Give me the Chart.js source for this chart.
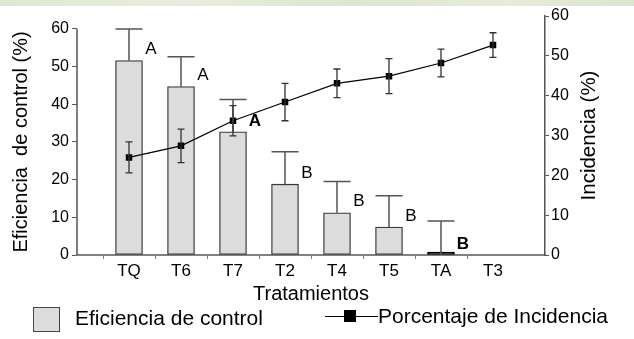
<!DOCTYPE html>
<html>
<head>
<meta charset="utf-8">
<script src="https://cdn.jsdelivr.net/npm/chart.js@4.4.0/dist/chart.umd.min.js"></script>
<style>
  html, body { margin: 0; padding: 0; background: #fff; }
  #wrap { position: relative; width: 634px; height: 339px; overflow: hidden; font-family: "Liberation Sans", Arial, sans-serif; }
  #strip { position: absolute; left: 0; top: 0; width: 634px; height: 6px;
    background: linear-gradient(90deg, #dfe8d4, #e8eedf 30%, #dce6d0 55%, #e6ecdc 80%, #dbe5cf); }
  #chart { position: absolute; left: 0; top: 0; }
  .lg { position: absolute; font-size: 21px; line-height: 24px; color: #000; white-space: nowrap; }
  #box { position: absolute; left: 33px; top: 307px; width: 25px; height: 23px; background: #dcdcdc; border: 1.5px solid #444; }
  #ln { position: absolute; left: 325px; top: 316px; width: 53px; height: 1.4px; background: #000; }
  #sq { position: absolute; left: 344px; top: 310px; width: 12px; height: 12px; background: #000; }
</style>
</head>
<body>
<div id="wrap">
  <div id="strip"></div>
  <canvas id="chart" width="634" height="339"></canvas>
  <div id="box"></div>
  <div class="lg" style="left:75px; top:306px;">Eficiencia de control</div>
  <div id="ln"></div><div id="sq"></div>
  <div class="lg" style="left:378px; top:304px;">Porcentaje de Incidencia</div>
</div>
<script>
const categories = ["TQ", "T6", "T7", "T2", "T4", "T5", "TA", "T3"];
const eficiencia = [51.6, 44.7, 32.7, 18.8, 11.2, 7.4, 0, null];
const eficienciaErr = [8.4, 7.9, 8.6, 8.6, 8.3, 8.3, 9.0, null];
const letras = ["A", "A", "A", "B", "B", "B", "B", ""];
const incidencia = [24.5, 27.4, 33.7, 38.4, 43.1, 44.9, 48.2, 52.7];
const incidenciaErr = [3.9, 4.2, 3.8, 4.7, 3.6, 4.4, 3.5, 3.1];
const yTicks = [0, 10, 20, 30, 40, 50, 60];

const font = "'Liberation Sans', Arial, sans-serif";
Chart.defaults.font.family = font;
Chart.defaults.color = "#000";

// blank slot at each end so the categories sit one step in from both axes
const pad = (arr) => [null, ...arr, null];
const labels = ["", ...categories, ""];
const boldLetters = new Set(["T7", "TA"]);

const extras = {
  id: "extras",
  afterDatasetsDraw(chart) {
    const ctx = chart.ctx;
    const y = chart.scales.y;
    const y1 = chart.scales.y1;
    const barMeta = chart.getDatasetMeta(0);
    const lineMeta = chart.getDatasetMeta(1);
    const effErr = pad(eficienciaErr);
    const incErr = pad(incidenciaErr);
    const lets = pad(letras);
    ctx.save();

    // bar error bars (upper only) + letters
    barMeta.data.forEach((bar, i) => {
      const v = chart.data.datasets[0].data[i];
      if (v == null) return;
      const top = y.getPixelForValue(v);
      const errTop = y.getPixelForValue(v + effErr[i]);
      const half = 13.5;
      ctx.strokeStyle = "#555";
      ctx.lineWidth = 1.5;
      ctx.beginPath();
      ctx.moveTo(bar.x, top);
      ctx.lineTo(bar.x, errTop);
      ctx.moveTo(bar.x - half, errTop);
      ctx.lineTo(bar.x + half, errTop);
      ctx.stroke();
      if (lets[i]) {
        ctx.fillStyle = "#000";
        ctx.font = (boldLetters.has(labels[i]) ? "bold " : "") + "17px " + font;
        ctx.textAlign = "center";
        ctx.textBaseline = "middle";
        ctx.fillText(lets[i], bar.x + 22, top - 11);
      }
    });

    // line error bars
    lineMeta.data.forEach((pt, i) => {
      const v = chart.data.datasets[1].data[i];
      if (v == null) return;
      const hi = y1.getPixelForValue(v + incErr[i]);
      const lo = y1.getPixelForValue(v - incErr[i]);
      ctx.strokeStyle = "#333";
      ctx.lineWidth = 1.3;
      ctx.beginPath();
      ctx.moveTo(pt.x, hi);
      ctx.lineTo(pt.x, lo);
      ctx.moveTo(pt.x - 3.5, hi);
      ctx.lineTo(pt.x + 3.5, hi);
      ctx.moveTo(pt.x - 3.5, lo);
      ctx.lineTo(pt.x + 3.5, lo);
      ctx.stroke();
    });
    ctx.restore();
  },
  afterDraw(chart) {
    const ctx = chart.ctx;
    const y = chart.scales.y;
    const y1 = chart.scales.y1;
    const y0 = y.getPixelForValue(0);
    const y60 = y.getPixelForValue(60);
    ctx.save();
    // left axis line only up to 60
    ctx.strokeStyle = "#555";
    ctx.lineWidth = 1.5;
    ctx.beginPath();
    ctx.moveTo(chart.chartArea.left, y0);
    ctx.lineTo(chart.chartArea.left, y60);
    ctx.stroke();

    // axis titles, both reading bottom to top
    ctx.fillStyle = "#000";
    ctx.font = "20px " + font;
    ctx.textAlign = "center";
    ctx.textBaseline = "middle";
    ctx.translate(y.left + 21, (y0 + y60) / 2);
    ctx.rotate(-Math.PI / 2);
    ctx.fillText("Eficiencia  de control (%)", 0, 0);
    ctx.restore();

    ctx.save();
    ctx.fillStyle = "#000";
    ctx.font = "20.5px " + font;
    ctx.textAlign = "center";
    ctx.textBaseline = "middle";
    ctx.translate(y1.right - 45, (y1.getPixelForValue(0) + y1.getPixelForValue(60)) / 2);
    ctx.rotate(-Math.PI / 2);
    ctx.fillText("Incidencia (%)", 0, 0);
    ctx.restore();
  }
};

new Chart(document.getElementById("chart"), {
  data: {
    labels,
    datasets: [
      {
        type: "bar",
        label: "Eficiencia de control",
        data: pad(eficiencia),
        backgroundColor: (c) => (c.raw === 0 ? "#000" : "#dcdcdc"),
        borderColor: (c) => (c.raw === 0 ? "#000" : "#3a3a3a"),
        borderWidth: 1.3,
        borderSkipped: false,
        barThickness: 27,
        minBarLength: 3,
        yAxisID: "y",
        order: 1
      },
      {
        type: "line",
        label: "Porcentaje de Incidencia",
        data: pad(incidencia),
        borderColor: "#000",
        borderWidth: 1.2,
        pointStyle: "rect",
        pointRadius: 4.6,
        pointBackgroundColor: "#000",
        pointBorderColor: "#000",
        pointBorderWidth: 0,
        tension: 0,
        yAxisID: "y1",
        order: 0
      }
    ]
  },
  options: {
    responsive: false,
    animation: false,
    layout: { padding: { top: 16, bottom: 29, left: 0, right: 0 } },
    plugins: {
      legend: { display: false },
      tooltip: { enabled: false }
    },
    scales: {
      x: {
        type: "category",
        offset: false,
        grid: {
          drawOnChartArea: false,
          tickLength: 4,
          color: (c) => (c.index === 0 || c.index === labels.length - 1 ? "rgba(0,0,0,0)" : "#808080")
        },
        border: { color: "#808080", width: 2 },
        ticks: { font: { size: 17 }, padding: 2, maxRotation: 0, autoSkip: false },
        title: { display: true, text: "Tratamientos", font: { size: 20 }, padding: { top: 0, bottom: 4 } },
        afterFit: (s) => { s.height = 55; }
      },
      y: {
        position: "left",
        min: 0,
        max: 63.45,
        border: { display: false },
        grid: { drawOnChartArea: false, tickLength: 5, color: "#555" },
        ticks: { font: { size: 16 }, padding: 3 },
        afterBuildTicks: (s) => { s.ticks = yTicks.map((v) => ({ value: v })); },
        afterFit: (s) => { s.width = 77; }
      },
      y1: {
        position: "right",
        min: 0,
        max: 60,
        border: { color: "#555", width: 1.5 },
        grid: { drawOnChartArea: false, tickLength: 4, color: "#555" },
        ticks: { font: { size: 16 }, padding: 2, stepSize: 10 },
        afterBuildTicks: (s) => { s.ticks = yTicks.map((v) => ({ value: v })); },
        afterFit: (s) => { s.width = 89; }
      }
    }
  },
  plugins: [extras]
});
</script>
</body>
</html>
